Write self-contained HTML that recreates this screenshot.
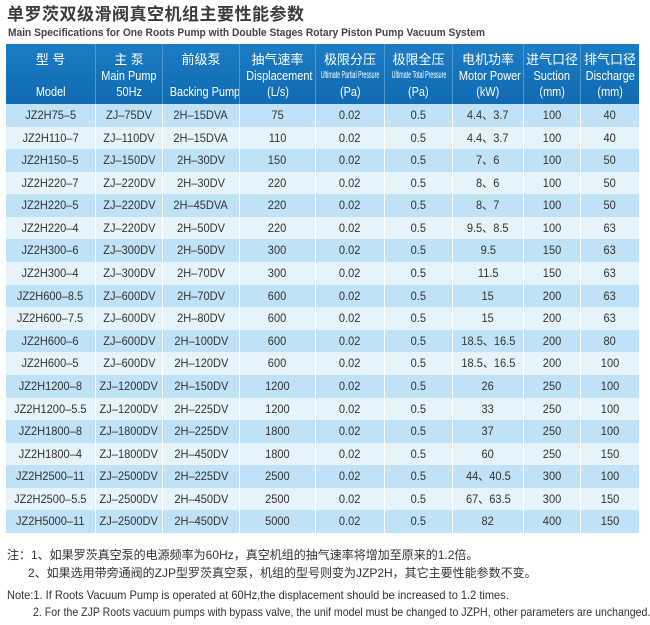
<!DOCTYPE html>
<html><head><meta charset="utf-8"><style>
body{margin:0;width:650px;height:625px;background:#fff;font-family:"Liberation Sans","Noto Sans CJK SC",sans-serif;color:#333;position:relative;overflow:hidden}
.t1{position:absolute;left:7px;top:4px;font-size:17px;line-height:22px;font-weight:bold;color:#3c3c3c;letter-spacing:0.5px}
.t2{position:absolute;left:8px;top:26px;font-size:11px;line-height:14px;font-weight:bold;color:#444;transform:scaleX(0.93);transform-origin:left;white-space:nowrap}
.hdr{position:absolute;left:6px;top:44px;width:633px;height:60px;background:linear-gradient(#1b7cc4,#0f6bb2)}
.row{position:absolute;left:6px;width:633px;height:23px;overflow:hidden}
.c{position:absolute;top:0;height:100%;text-align:center;white-space:nowrap;border-left:1px solid #fff;box-sizing:border-box}
.row .c{font-size:12px;line-height:23px;overflow:hidden}
.row .c span{display:inline-block;transform:scaleX(0.92)}
.hdr .c{border-left:1px solid #4f97cf;color:#fff}
.hl{position:absolute;left:0;right:0;text-align:center;line-height:16px;white-space:nowrap}
.zh{font-size:13px}
.en{font-size:13px;display:inline-block;transform:scaleX(0.84)}
.sm{font-size:10px;display:block;width:130px;margin-left:calc(50% - 65px);text-align:center;transform:scaleX(0.53)}
.n{position:absolute;font-size:12px;line-height:16px;color:#333;white-space:nowrap;transform-origin:left}
</style></head><body>
<div class="t1">单罗茨双级滑阀真空机组主要性能参数</div>
<div class="t2">Main Specifications for One Roots Pump with Double Stages Rotary Piston Pump Vacuum System</div>
<div id="wrap"></div>
<div class="n" style="left:7px;top:547px">注：1、如果罗茨真空泵的电源频率为60Hz，真空机组的抽气速率将增加至原来的1.2倍。</div>
<div class="n" style="left:28px;top:565px">2、如果选用带旁通阀的ZJP型罗茨真空泵，机组的型号则变为JZP2H，其它主要性能参数不变。</div>
<div class="n" style="left:7px;top:587px;transform:scaleX(0.92)">Note:1. If Roots Vacuum Pump is operated at 60Hz,the displacement should be increased to 1.2 times.</div>
<div class="n" style="left:33px;top:604px;transform:scaleX(0.88)">2. For the ZJP Roots vacuum pumps with bypass valve, the unif model must be changed to JZPH, other parameters are unchanged.</div>
<div class="hdr">
<div class="c" style="left:0;width:89px;border-left:none"><div class="hl zh" style="top:8px">型 号</div><div class="hl" style="top:40px"><span class="en">Model</span></div></div>
<div class="c" style="left:89px;width:67px"><div class="hl zh" style="top:8px">主 泵</div><div class="hl" style="top:24px"><span class="en">Main Pump</span></div><div class="hl" style="top:40px"><span class="en">50Hz</span></div></div>
<div class="c" style="left:156px;width:77px"><div class="hl zh" style="top:8px">前级泵</div><div class="hl" style="top:40px"><span class="en">Backing Pump</span></div></div>
<div class="c" style="left:233px;width:76px"><div class="hl zh" style="top:8px">抽气速率</div><div class="hl" style="top:24px"><span class="en">Displacement</span></div><div class="hl" style="top:40px"><span class="en">(L/s)</span></div></div>
<div class="c" style="left:309px;width:69px"><div class="hl zh" style="top:8px">极限分压</div><div class="hl" style="top:24px"><span class="sm">Ultimate Partial Pressure</span></div><div class="hl" style="top:40px"><span class="en">(Pa)</span></div></div>
<div class="c" style="left:378px;width:68px"><div class="hl zh" style="top:8px">极限全压</div><div class="hl" style="top:24px"><span class="sm">Ultimate Total Pressure</span></div><div class="hl" style="top:40px"><span class="en">(Pa)</span></div></div>
<div class="c" style="left:446px;width:71px"><div class="hl zh" style="top:8px">电机功率</div><div class="hl" style="top:24px"><span class="en">Motor Power</span></div><div class="hl" style="top:40px"><span class="en">(kW)</span></div></div>
<div class="c" style="left:517px;width:57px"><div class="hl zh" style="top:8px">进气口径</div><div class="hl" style="top:24px"><span class="en">Suction</span></div><div class="hl" style="top:40px"><span class="en">(mm)</span></div></div>
<div class="c" style="left:574px;width:59px"><div class="hl zh" style="top:8px">排气口径</div><div class="hl" style="top:24px"><span class="en">Discharge</span></div><div class="hl" style="top:40px"><span class="en">(mm)</span></div></div>
</div>
<script>
var d=[["JZ2H75–5","ZJ–75DV","2H–15DVA","75","4.4、3.7","100","40"],
["JZ2H110–7","ZJ–110DV","2H–15DVA","110","4.4、3.7","100","40"],
["JZ2H150–5","ZJ–150DV","2H–30DV","150","7、6","100","50"],
["JZ2H220–7","ZJ–220DV","2H–30DV","220","8、6","100","50"],
["JZ2H220–5","ZJ–220DV","2H–45DVA","220","8、7","100","50"],
["JZ2H220–4","ZJ–220DV","2H–50DV","220","9.5、8.5","100","63"],
["JZ2H300–6","ZJ–300DV","2H–50DV","300","9.5","150","63"],
["JZ2H300–4","ZJ–300DV","2H–70DV","300","11.5","150","63"],
["JZ2H600–8.5","ZJ–600DV","2H–70DV","600","15","200","63"],
["JZ2H600–7.5","ZJ–600DV","2H–80DV","600","15","200","63"],
["JZ2H600–6","ZJ–600DV","2H–100DV","600","18.5、16.5","200","80"],
["JZ2H600–5","ZJ–600DV","2H–120DV","600","18.5、16.5","200","100"],
["JZ2H1200–8","ZJ–1200DV","2H–150DV","1200","26","250","100"],
["JZ2H1200–5.5","ZJ–1200DV","2H–225DV","1200","33","250","100"],
["JZ2H1800–8","ZJ–1800DV","2H–225DV","1800","37","250","100"],
["JZ2H1800–4","ZJ–1800DV","2H–450DV","1800","60","250","150"],
["JZ2H2500–11","ZJ–2500DV","2H–225DV","2500","44、40.5","300","100"],
["JZ2H2500–5.5","ZJ–2500DV","2H–450DV","2500","67、63.5","300","150"],
["JZ2H5000–11","ZJ–2500DV","2H–450DV","5000","82","400","150"]];
var L=[0,89,156,233,309,378,446,517,574,633],h="";
for(var i=0;i<d.length;i++){var r=d[i],v=[r[0],r[1],r[2],r[3],"0.02","0.5",r[4],r[5],r[6]];
var yy=(104+i*22.58).toFixed(2);
h+='<div class="row" style="top:'+yy+'px;background:'+(i%2?'#e5f3fb':'#bfe2f6')+'">';
for(var j=0;j<9;j++)h+='<div class="c" style="left:'+L[j]+'px;width:'+(L[j+1]-L[j])+'px'+(j==0?';border-left:none':'')+'"><span>'+v[j]+'</span></div>';
h+='</div>';}
document.getElementById("wrap").innerHTML=h;
</script>
</body></html>
